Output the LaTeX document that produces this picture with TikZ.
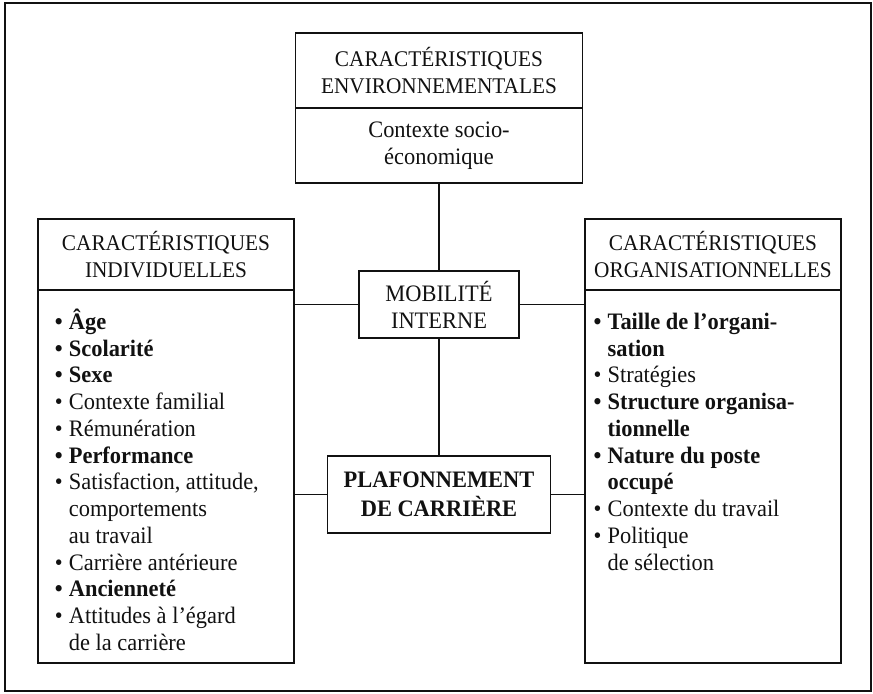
\documentclass[tikz,border=0pt]{standalone}
\usepackage{fontspec}
\setmainfont{Liberation Serif}[FakeStretch=0.95]
\usetikzlibrary{positioning}
\definecolor{encre}{HTML}{111111}
\newcommand{\puce}{\makebox[7pt][l]{\textbullet}}
\newcommand{\retrait}{\hspace*{7pt}}
\newcommand{\haut}{\rule{0pt}{11pt}}

\begin{document}
\begin{tikzpicture}[x=0.5pt,y=-0.5pt,
    cadre/.style={draw=encre, line width=0.9pt, outer sep=0pt, inner sep=2pt,
      align=center, text=encre, font=\fontsize{11.8}{13.4}\selectfont},
    titre/.style={cadre, font=\fontsize{11.2}{13.2}\selectfont},
    entete/.style={titre, minimum width=128pt, minimum height=35.5pt},
    corps/.style={cadre, minimum width=128pt, minimum height=186.5pt},
    liste/.style={anchor=north west, align=left, inner sep=0pt, text=encre,
      font=\fontsize{11.8}{13.375}\selectfont},
    lien/.style={draw=encre, line width=0.7pt}]
  \useasboundingbox (0,0) rectangle (873,693);
  % cadre general
  \draw[encre, line width=0.8pt] (5,3) rectangle (871,691);

  % environnement
  \node[titre, minimum width=143.5pt, minimum height=37.5pt, anchor=north] (envT) at (439,33)
    {CARACTÉRISTIQUES\\ENVIRONNEMENTALES};
  \node[cadre, minimum width=143.5pt, minimum height=37.5pt, below=0pt of envT] (envC)
    {Contexte socio-\\économique};

  % individu
  \node[entete, anchor=north] (indivT) at (166,219) {CARACTÉRISTIQUES\\INDIVIDUELLES};
  \node[corps, below=0pt of indivT] (indivC) {};
  \node[liste] (indivL) at ([xshift=8.25pt, yshift=-8.5pt]indivC.north west) {%
    \haut{\bfseries\puce Âge}\\
    {\bfseries\puce Scolarité}\\
    {\bfseries\puce Sexe}\\
    \puce Contexte familial\\
    \puce Rémunération\\
    {\bfseries\puce Performance}\\
    \puce Satisfaction, attitude,\\
    \retrait comportements\\
    \retrait au travail\\
    \puce Carrière antérieure\\
    {\bfseries\puce Ancienneté}\\
    \puce Attitudes à l’égard\\
    \retrait de la carrière};

  % organisation
  \node[entete, anchor=north] (orgT) at (713,219) {CARACTÉRISTIQUES\\ORGANISATIONNELLES};
  \node[corps, below=0pt of orgT] (orgC) {};
  \node[liste] (orgL) at ([xshift=4.1pt, yshift=-8.5pt]orgC.north west) {%
    \haut{\bfseries\puce Taille de l’organi-}\\
    {\bfseries\retrait sation}\\
    \puce Stratégies\\
    {\bfseries\puce Structure organisa-}\\
    {\bfseries\retrait tionnelle}\\
    {\bfseries\puce Nature du poste}\\
    {\bfseries\retrait occupé}\\
    \puce Contexte du travail\\
    \puce Politique\\
    \retrait de sélection};

  % centre
  \node[cadre, minimum width=80pt, minimum height=33.5pt] (mob) at (439,304.5)
    {MOBILITÉ\\INTERNE};
  \node[cadre, minimum width=111.5pt, minimum height=38.5pt,
    font=\fontsize{11.8}{14.4}\selectfont\bfseries] (plaf) at (439,494.5)
    {PLAFONNEMENT\\DE CARRIÈRE};

  % liaisons
  \draw[lien] (envC.south) -- (mob.north);
  \draw[lien] (mob.south) -- (plaf.north);
  \foreach \n in {mob,plaf} {
    \draw[lien] (\n.west) -- (\n.west -| indivC.east);
    \draw[lien] (\n.east) -- (\n.east -| orgC.west);
  }
\end{tikzpicture}
\end{document}
